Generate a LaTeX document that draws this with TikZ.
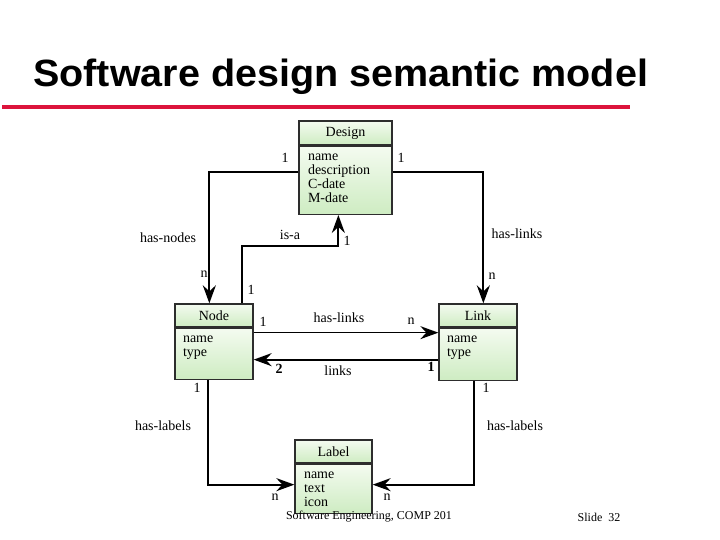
\documentclass[tikz,border=0pt]{standalone}
\usepackage{fontspec}
\setmainfont{Liberation Serif}
\newfontfamily\titlefont[FakeStretch=1.04]{Liberation Sans}
\usetikzlibrary{positioning,calc,arrows.meta}

\definecolor{slidered}{RGB}{220,20,60}
\definecolor{boxlight}{RGB}{244,251,240}
\definecolor{boxgreen}{RGB}{206,236,194}
\definecolor{boxline}{RGB}{45,45,45}

% attribute list, top aligned in a fixed height
\newcommand{\attrlist}[3]{\parbox[t][#1][t]{#2}{\strut #3}}

\tikzset{
  classhead/.style={draw=boxline, line width=1.3pt, top color=boxlight, bottom color=boxgreen,
    minimum width=#1, minimum height=23pt, inner sep=0pt},
  classbody/.style={draw=boxline, line width=1.3pt, top color=boxlight, bottom color=boxgreen,
    minimum width=#1, inner xsep=0pt, inner ysep=4pt},
  assoc/.style={line width=2.2pt, -{Stealth[length=18pt,width=13pt,inset=6pt]}},
  lbl/.style={inner sep=1pt}
}

\begin{document}
\begin{tikzpicture}[x=1pt,y=-1pt, font=\fontsize{14}{14}\selectfont]
                \useasboundingbox (0,0) rectangle (720,540);

                % Title
                \node[anchor=base west, inner sep=0pt, font=\titlefont\bfseries\fontsize{38}{42}\selectfont] (title) at (33,87) {Software design semantic model};
                \draw[slidered, line width=4pt] (2,107) -- (630,107);

                % Classes
                \node[classhead=93pt, minimum height=24pt] (design) at (345.5,133) {Design};
                \node[classbody=93pt, below=0pt of design] (design-body) {\attrlist{60pt}{75pt}{name\\description\\C-date\\M-date}};

                \node[classhead=78pt] (node) at (214,315.5) {Node};
                \node[classbody=78pt, below=0pt of node] (node-body) {\attrlist{43pt}{62pt}{name\\type}};

                \node[classhead=78pt] (link) at (478,315.5) {Link};
                \node[classbody=78pt, below=0pt of link] (link-body) {\attrlist{44pt}{62pt}{name\\type}};

                \node[classhead=77pt] (label) at (333.5,451.5) {Label};
                \node[classbody=77pt, below=0pt of label] (label-body) {\attrlist{41pt}{59pt}{name\\text\\icon}};

                % Associations
                \draw[assoc] ($(design-body.north west)+(0,26)$) -| ($(node.north west)+(35,0)$);
                \draw[assoc] ($(design-body.north east)+(0,26)$) -| ($(link.north west)+(45,0)$);
                \draw[assoc] ($(node.north west)+(68,0)$) -- ++(0,-57) -| ($(design-body.south west)+(40,0)$);
                \draw[assoc, line width=1.5pt] ($(node-body.north east)+(0,5)$) -- ($(link-body.north west)+(0,5)$);
                \draw[assoc] ($(link-body.north west)+(0,32)$) -- ($(node-body.north east)+(0,32)$);
                \draw[assoc] ($(node-body.south west)+(34,0)$) |- ($(label-body.north west)+(0,21)$);
                \draw[assoc] ($(link-body.south west)+(36,0)$) |- ($(label-body.north east)+(0,21)$);

                % Labels
                \node[lbl] (m-dn) at (285,158) {1};
                \node[lbl] (m-dl) at (401,158) {1};
                \node[lbl] (r-nodes) at (168,238) {has-nodes};
                \node[lbl] (r-isa) at (290,235) {is-a};
                \node[lbl] (m-isa-d) at (347,241) {1};
                \node[lbl] (r-links) at (517,234) {has-links};
                \node[lbl] (m-nd) at (204,274) {n};
                \node[lbl] (m-isa-n) at (251,290) {1};
                \node[lbl] (m-ld) at (492,276) {n};
                \node[lbl] (m-nl) at (263,322) {1};
                \node[lbl] (r-nl) at (339,318) {has-links};
                \node[lbl] (m-ln) at (411,321) {n};
                \node[lbl, font=\fontsize{14}{14}\selectfont\bfseries] (m-two) at (279,369) {2};
                \node[lbl] (r-lk) at (338,371) {links};
                \node[lbl, font=\fontsize{14}{14}\selectfont\bfseries] (m-one) at (431,367) {1};
                \node[lbl] (m-nlab) at (197,388) {1};
                \node[lbl] (m-llab) at (486,388) {1};
                \node[lbl] (r-labn) at (163,426) {has-labels};
                \node[lbl] (r-labl) at (515,426) {has-labels};
                \node[lbl] (m-labn) at (275,497) {n};
                \node[lbl] (m-labl) at (387,497) {n};

                % Footer
                \node[font=\fontsize{12}{14}\selectfont] (footer) at (369,517) {Software Engineering, COMP 201};
                \node[font=\fontsize{12}{14}\selectfont] (slide) at (599,517) {Slide\enspace 32};
            \end{tikzpicture}
\end{document}
